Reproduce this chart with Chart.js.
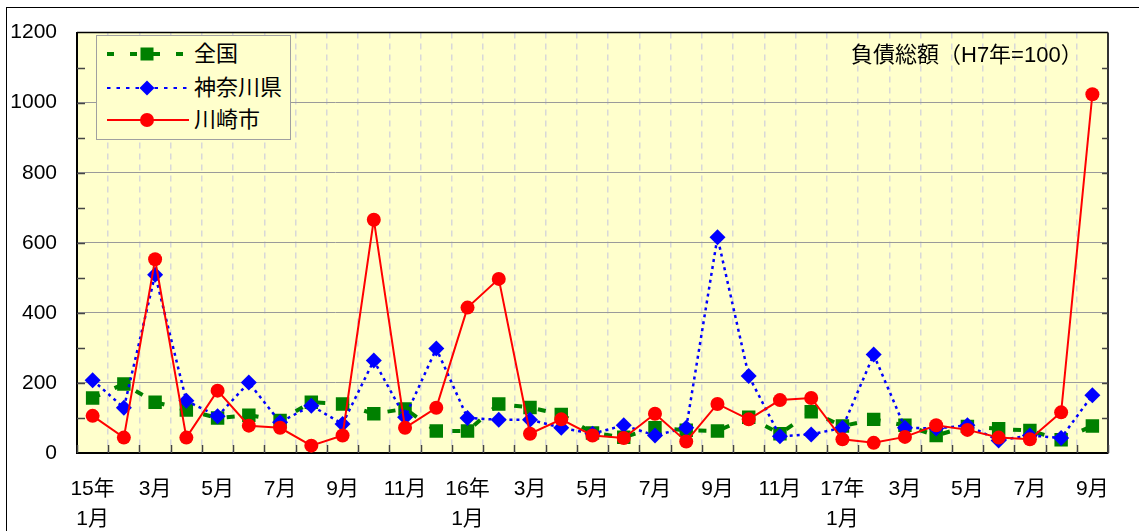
<!DOCTYPE html>
<html>
<head>
<meta charset="utf-8">
<script src="https://cdn.jsdelivr.net/npm/chart.js@4/dist/chart.umd.min.js"></script>
<style>
html, body { margin: 0; padding: 0; background: #fff; }
#wrap { position: relative; width: 1139px; height: 531px; overflow: hidden; }
#frame { position: absolute; left: 6px; top: 7px; width: 1300px; height: 700px; border-left: 1.5px solid #000; border-top: 1.5px solid #000; }
#chart { position: absolute; left: 0; top: 0; }
.txt { font-family: 'Liberation Sans', 'Noto Sans CJK JP', sans-serif; font-size: 22px; color: #000; }
#legend { position: absolute; left: 96px; top: 35px; width: 193px; height: 103px; border: 1px solid #a0a0a0; background: #ffffcc; }
.row { position: absolute; left: 0; width: 193px; height: 30px; }
.row svg { position: absolute; left: 10px; top: 5px; }
.row span { position: absolute; left: 97px; top: 0; line-height: 30px; white-space: nowrap; }
#note { position: absolute; left: 851px; top: 40px; line-height: 30px; white-space: nowrap; }
</style>
</head>
<body>
<div id="wrap">
  <div id="frame"></div>
  <canvas id="chart" width="1139" height="531"></canvas>
  <div id="legend" class="txt">
    <div class="row" style="top:3px">
      <svg width="82" height="20"><line x1="0" y1="10" x2="82" y2="10" stroke="#008000" stroke-width="4" stroke-dasharray="7 16"/><rect x="33.5" y="3.5" width="13" height="13" fill="#008000"/></svg>
      <span>全国</span>
    </div>
    <div class="row" style="top:37px">
      <svg width="82" height="20"><line x1="0" y1="10" x2="82" y2="10" stroke="#0000ff" stroke-width="2" stroke-dasharray="3.5 6"/><polygon points="40,2.5 47.5,10 40,17.5 32.5,10" fill="#0000ff"/></svg>
      <span>神奈川県</span>
    </div>
    <div class="row" style="top:69px">
      <svg width="82" height="20"><line x1="0" y1="10" x2="82" y2="10" stroke="#ff0000" stroke-width="2"/><circle cx="40" cy="10" r="7" fill="#ff0000"/></svg>
      <span>川崎市</span>
    </div>
  </div>
  <div id="note" class="txt">負債総額（H7年=100）</div>
</div>
<script>
// months: Jan 2015 .. Sep 2017
const months = [
    '2015-01', '2015-02', '2015-03', '2015-04', '2015-05', '2015-06', '2015-07', '2015-08', '2015-09', '2015-10', '2015-11', '2015-12',
    '2016-01', '2016-02', '2016-03', '2016-04', '2016-05', '2016-06', '2016-07', '2016-08', '2016-09', '2016-10', '2016-11', '2016-12',
    '2017-01', '2017-02', '2017-03', '2017-04', '2017-05', '2017-06', '2017-07', '2017-08', '2017-09',
];
const tickLabels = [
    ['15年', '1月'], '', '3月', '', '5月', '', '7月', '', '9月', '', '11月', '',
    ['16年', '1月'], '', '3月', '', '5月', '', '7月', '', '9月', '', '11月', '',
    ['17年', '1月'], '', '3月', '', '5月', '', '7月', '', '9月',
];
const yTicks = [0, 200, 400, 600, 800, 1000, 1200];

const zenkoku = [157, 197, 145, 123, 100, 108, 93, 145, 140, 112, 126, 63, 63, 140, 130, 110, 57, 45, 72, 65, 63, 102, 55, 118, 77, 96, 79, 50, 76, 69, 64, 38, 77];
const kanagawa = [208, 129, 509, 149, 105, 201, 88, 135, 83, 264, 102, 298, 100, 95, 95, 72, 55, 79, 50, 72, 616, 220, 48, 53, 72, 281, 72, 70, 79, 36, 50, 43, 165];
const kawasaki = [106, 44, 553, 44, 178, 78, 72, 21, 50, 666, 72, 129, 415, 497, 55, 96, 50, 43, 112, 33, 140, 96, 151, 157, 39, 29, 46, 79, 66, 44, 39, 116, 1024];

const fontFamily = "'Liberation Sans', 'Noto Sans CJK JP', sans-serif";

const plotFrame = {
    id: 'plotFrame',
    beforeDraw: (chart) => {
        const { ctx, chartArea: a } = chart;
        ctx.save();
        ctx.fillStyle = '#ffffcc';
        ctx.fillRect(a.left, a.top, a.right - a.left, a.bottom - a.top);
        ctx.restore();
    },
    afterDraw: (chart) => {
        const { ctx, chartArea: a } = chart;
        const xs = chart.scales.x;
        const ys = chart.scales.y;
        ctx.save();
        ctx.strokeStyle = '#000';
        ctx.lineWidth = 1.5;
        ctx.beginPath();
        ctx.moveTo(a.left, a.top);
        ctx.lineTo(a.right, a.top);
        ctx.stroke();
        ctx.strokeStyle = '#333';
        ctx.lineWidth = 2;
        ctx.beginPath();
        ctx.moveTo(a.right, a.top);
        ctx.lineTo(a.right, a.bottom);
        ctx.stroke();
        // inward tick marks on x (category boundaries)
        const half = (xs.getPixelForValue(1) - xs.getPixelForValue(0)) / 2;
        ctx.strokeStyle = '#444';
        ctx.lineWidth = 1.5;
        ctx.beginPath();
        for (let i = 0; i <= months.length; i++) {
            const x = Math.round(xs.getPixelForValue(i) - half) + 0.5;
            ctx.moveTo(x, a.bottom);
            ctx.lineTo(x, a.bottom - 8);
        }
        // inward tick marks on y every 100
        for (let v = 100; v < 1200; v += 100) {
            const y = Math.round(ys.getPixelForValue(v)) + 0.5;
            ctx.moveTo(a.left, y);
            ctx.lineTo(a.left + 8, y);
            ctx.moveTo(a.right, y);
            ctx.lineTo(a.right - 6, y);
        }
        ctx.stroke();
        ctx.restore();
    },
};

new Chart(document.getElementById('chart').getContext('2d'), {
    type: 'line',
    data: {
        labels: months,
        datasets: [
            {
                label: '全国',
                data: zenkoku,
                borderColor: '#008000',
                backgroundColor: '#008000',
                borderWidth: 4,
                borderDash: [8, 16],
                pointStyle: 'rect',
                pointRadius: 9.5,
                pointBorderWidth: 0,
                order: 3,
            },
            {
                label: '神奈川県',
                data: kanagawa,
                borderColor: '#0000ff',
                backgroundColor: '#0000ff',
                borderWidth: 2.5,
                borderDash: [3, 4],
                pointStyle: 'rectRot',
                pointRadius: 8,
                pointBorderWidth: 0,
                order: 2,
            },
            {
                label: '川崎市',
                data: kawasaki,
                borderColor: '#ff0000',
                backgroundColor: '#ff0000',
                borderWidth: 2,
                pointStyle: 'circle',
                pointRadius: 7,
                pointBorderWidth: 0,
                order: 1,
            },
        ],
    },
    options: {
        responsive: false,
        animation: false,
        devicePixelRatio: 1,
        layout: { padding: { top: 28, right: 31, left: 0, bottom: 0 } },
        plugins: { legend: { display: false }, tooltip: { enabled: false } },
        scales: {
            x: {
                offset: true,
                grid: { offset: true, color: '#d8d8d8', lineWidth: 1.5, drawTicks: false },
                border: { display: true, color: '#000', width: 2, dash: [6, 5] },
                ticks: {
                    autoSkip: false,
                    maxRotation: 0,
                    padding: 21,
                    color: '#000',
                    font: { family: fontFamily, size: 21, lineHeight: '30px' },
                    callback: (v, i) => tickLabels[i],
                },
                afterFit: (s) => { s.height = 78; },
            },
            y: {
                min: 0,
                max: 1200,
                afterBuildTicks: (s) => { s.ticks = yTicks.map((v) => ({ value: v })); },
                grid: { color: '#9a9a9a', lineWidth: 1, drawTicks: false },
                border: { display: true, color: '#000', width: 2 },
                ticks: {
                    padding: 20,
                    color: '#000',
                    font: { family: fontFamily, size: 21 },
                    callback: (v) => String(v),
                },
                afterFit: (s) => { s.width = 77; },
            },
        },
    },
    plugins: [plotFrame],
});
</script>
</body>
</html>
